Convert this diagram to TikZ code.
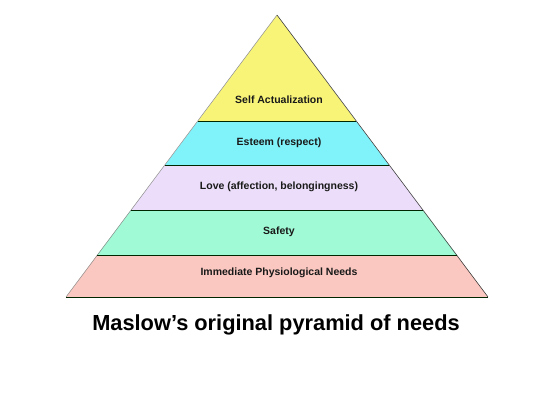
\documentclass[tikz,border=0pt]{standalone}
\usepackage{fontspec}
\setmainfont{Liberation Sans}
\begin{document}
\begin{tikzpicture}[x=1pt,y=-1pt,
  divider/.style={draw=black!85!green, line width=1pt},
  lbl/.style={font=\fontsize{10.5}{12}\selectfont\bfseries, text=black!90},
  ttl/.style={font=\fontsize{21.8}{25}\selectfont\bfseries, text=black}]
\useasboundingbox (0,0) rectangle (550,400);
\definecolor{cYellow}{RGB}{248,244,120}
\definecolor{cCyan}{RGB}{128,242,250}
\definecolor{cLav}{RGB}{236,222,250}
\definecolor{cMint}{RGB}{160,250,214}
\definecolor{cPink}{RGB}{250,200,192}
% apex (277,15), base half-width 211 at y=297
\coordinate (A) at (277,15);
\coordinate (L1) at (198,121); \coordinate (R1) at (356,121);
\coordinate (L2) at (165,165); \coordinate (R2) at (389,165);
\coordinate (L3) at (131,210); \coordinate (R3) at (423,210);
\coordinate (L4) at (97,255);  \coordinate (R4) at (457,255);
\coordinate (L5) at (66,297);  \coordinate (R5) at (488,297);
\fill[cYellow] (A) -- (R1) -- (L1) -- cycle;
\fill[cCyan] (L1) -- (R1) -- (R2) -- (L2) -- cycle;
\fill[cLav] (L2) -- (R2) -- (R3) -- (L3) -- cycle;
\fill[cMint] (L3) -- (R3) -- (R4) -- (L4) -- cycle;
\fill[cPink] (L4) -- (R4) -- (R5) -- (L5) -- cycle;
\draw[draw=black!45, line width=0.5pt] (L5) -- (A);
\draw[draw=black!75, line width=0.6pt] (A) -- (R5);
\draw[divider] (L1) -- (R1);
\draw[divider] (L2) -- (R2);
\draw[divider] (L3) -- (R3);
\draw[divider] (L4) -- (R4);
\draw[divider] (L5) -- (R5);
\node[lbl] (t1) at (279,100) {Self Actualization};
\node[lbl] (t2) at (279,143) {Esteem (respect)};
\node[lbl] (t3) at (279,187) {Love (affection, belongingness)};
\node[lbl] (t4) at (279,232) {Safety};
\node[lbl] (t5) at (279,273) {Immediate Physiological Needs};
\node[ttl] (title) at (276,325) {Maslow’s original pyramid of needs};
\end{tikzpicture}
\end{document}
